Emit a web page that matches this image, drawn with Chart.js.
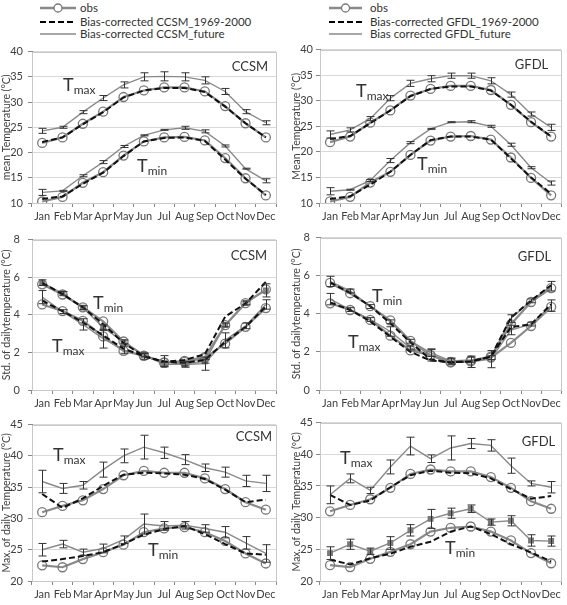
<!DOCTYPE html>
<html>
<head>
<meta charset="utf-8">
<script src="https://cdn.jsdelivr.net/npm/chart.js@4.4.0/dist/chart.umd.min.js"></script>
<style>
  body { margin: 0; background: #fff; width: 567px; height: 605px; overflow: hidden; position: relative; font-family: Lato, "Liberation Sans", sans-serif; }
  canvas { position: absolute; }
  .row { position: absolute; height: 14px; white-space: nowrap; font-size: 11.5px; color: #333; line-height: 14px; }
  .row svg { position: absolute; top: 0; }
  .row span { position: absolute; top: 0; }
</style>
</head>
<body>
<div id="legend"></div>
<canvas id="p1" width="282" height="182" style="left:0;top:40px"></canvas>
<canvas id="p2" width="283" height="182" style="left:284px;top:40px"></canvas>
<canvas id="p3" width="282" height="185" style="left:0;top:225px"></canvas>
<canvas id="p4" width="283" height="185" style="left:284px;top:225px"></canvas>
<canvas id="p5" width="282" height="192" style="left:0;top:413px"></canvas>
<canvas id="p6" width="283" height="192" style="left:284px;top:413px"></canvas>
<script>
const months = ["Jan", "Feb", "Mar", "Apr", "May", "Jun", "Jul", "Aug", "Sep", "Oct", "Nov", "Dec"];

const legendLeft = ["obs", "Bias-corrected CCSM_1969-2000", "Bias-corrected CCSM_future"];
const legendRight = ["obs", "Bias-corrected GFDL_1969-2000", "Bias corrected GFDL_future"];

// mean temperature
const obsTmaxMean = [21.9, 23.0, 25.7, 28.1, 31.0, 32.3, 32.9, 32.9, 32.1, 29.2, 25.8, 23.0];
const obsTminMean = [10.3, 11.2, 14.0, 16.1, 19.4, 22.2, 23.0, 23.1, 22.4, 18.9, 14.9, 11.5];
const ccsmHistTmaxMean = [22.1, 23.0, 25.6, 28.0, 30.9, 32.3, 32.8, 32.8, 32.0, 29.1, 25.8, 23.0];
const ccsmHistTminMean = [10.8, 11.3, 13.8, 16.0, 19.3, 22.2, 22.9, 23.0, 22.3, 18.6, 14.8, 11.6];
const ccsmFutTmaxMean = [24.3, 25.0, 28.0, 30.8, 33.4, 35.0, 35.1, 35.0, 34.3, 32.1, 28.1, 25.9];
const ccsmFutTmaxMeanErr = [0.5, 0.2, 0.3, 0.5, 0.6, 0.8, 0.9, 0.8, 0.7, 0.6, 0.4, 0.4];
const ccsmFutTminMean = [12.1, 12.4, 15.4, 18.1, 21.2, 23.4, 24.5, 24.9, 24.2, 21.3, 16.8, 14.4];
const ccsmFutTminMeanErr = [0.6, 0.1, 0.2, 0.3, 0.2, 0.1, 0.1, 0.3, 0.3, 0.2, 0.1, 0.4];
const gfdlHistTmaxMean = [22.5, 23.1, 25.6, 28.1, 30.9, 32.3, 32.8, 32.8, 32.0, 29.2, 25.9, 23.0];
const gfdlHistTminMean = [10.8, 11.3, 13.6, 16.1, 19.4, 22.3, 23.0, 23.0, 22.4, 18.7, 15.0, 11.8];
const gfdlFutTmaxMean = [23.4, 24.3, 26.5, 30.5, 33.4, 34.3, 34.9, 34.9, 33.9, 31.2, 27.4, 24.8];
const gfdlFutTmaxMeanErr = [0.7, 0.4, 0.4, 0.5, 0.6, 0.6, 0.5, 0.5, 0.6, 0.5, 0.4, 0.6];
const gfdlFutTminMean = [12.3, 12.6, 14.4, 18.3, 21.8, 24.5, 25.8, 25.9, 25.0, 21.4, 16.9, 13.9];
const gfdlFutTminMeanErr = [0.7, 0.1, 0.2, 0.4, 0.2, 0.1, 0.1, 0.2, 0.2, 0.3, 0.2, 0.4];

// std of daily temperature
const obsTmaxStd = [4.55, 4.2, 3.68, 2.85, 2.08, 1.83, 1.47, 1.5, 1.7, 2.47, 3.36, 4.36];
const obsTminStd = [5.62, 5.08, 4.4, 3.65, 2.58, 1.82, 1.45, 1.55, 1.75, 3.45, 4.62, 5.35];
const ccsmHistTmaxStd = [4.75, 4.2, 3.6, 2.9, 2.2, 1.8, 1.5, 1.45, 1.6, 2.55, 3.35, 4.45];
const ccsmHistTminStd = [5.7, 5.1, 4.4, 3.5, 2.5, 1.8, 1.5, 1.6, 1.9, 3.9, 4.6, 5.75];
const ccsmFutTmaxStd = [4.94, 4.17, 3.49, 2.73, 2.13, 1.79, 1.53, 1.36, 1.4, 2.64, 3.41, 4.55];
const ccsmFutTmaxStdErr = [0.35, 0.1, 0.3, 0.5, 0.2, 0.15, 0.3, 0.15, 0.35, 0.4, 0.15, 0.25];
const ccsmFutTminStd = [5.71, 5.14, 4.38, 3.32, 2.56, 1.87, 1.36, 1.38, 1.53, 3.46, 4.63, 5.3];
const ccsmFutTminStdErr = [0.15, 0.1, 0.1, 0.15, 0.1, 0.1, 0.1, 0.1, 0.1, 0.1, 0.1, 0.35];
const gfdlHistTmaxStd = [4.6, 4.2, 3.6, 2.8, 2.0, 1.55, 1.45, 1.5, 1.75, 3.3, 3.45, 4.5];
const gfdlHistTminStd = [5.65, 5.1, 4.4, 3.5, 2.5, 1.6, 1.45, 1.5, 1.75, 3.8, 4.7, 5.5];
const gfdlFutTmaxStd = [4.77, 4.22, 3.7, 3.07, 2.21, 1.82, 1.48, 1.48, 1.62, 3.15, 3.46, 4.43];
const gfdlFutTmaxStdErr = [0.3, 0.1, 0.1, 0.25, 0.1, 0.3, 0.15, 0.3, 0.45, 0.25, 0.1, 0.3];
const gfdlFutTminStd = [5.7, 5.2, 4.38, 3.58, 2.56, 1.96, 1.53, 1.58, 1.7, 3.75, 4.68, 5.45];
const gfdlFutTminStdErr = [0.27, 0.1, 0.1, 0.1, 0.1, 0.2, 0.15, 0.15, 0.1, 0.2, 0.1, 0.25];

// max of daily temperature
const obsTmaxMax = [31.0, 32.0, 32.9, 34.7, 36.9, 37.6, 37.3, 37.3, 36.4, 34.7, 32.6, 31.4];
const obsTminMax = [22.5, 22.2, 23.5, 24.6, 25.8, 27.8, 28.4, 28.6, 27.8, 26.4, 24.4, 22.8];
const ccsmHistTmaxMax = [33.9, 31.7, 33.2, 35.2, 37.0, 37.3, 37.2, 37.0, 36.3, 34.6, 32.6, 33.0];
const ccsmHistTminMax = [23.1, 23.5, 24.0, 24.6, 25.9, 27.4, 28.3, 28.8, 27.5, 25.9, 24.4, 24.2];
const ccsmFutTmaxMax = [35.9, 34.8, 35.3, 37.8, 40.0, 41.4, 40.5, 39.4, 38.1, 37.4, 36.0, 35.6];
const ccsmFutTmaxMaxErr = [1.8, 0.8, 0.6, 1.2, 1.1, 1.9, 0.9, 0.8, 0.6, 0.8, 0.9, 1.3];
const ccsmFutTminMax = [25.0, 25.9, 24.6, 25.2, 26.6, 29.1, 28.8, 28.9, 28.4, 27.8, 26.1, 24.4];
const ccsmFutTminMaxErr = [1.0, 0.6, 0.5, 0.7, 0.6, 1.6, 0.7, 0.6, 0.6, 0.9, 1.0, 1.4];
const gfdlHistTmaxMax = [33.6, 32.0, 32.7, 34.8, 36.7, 37.4, 37.1, 37.0, 36.2, 34.5, 33.0, 33.4];
const gfdlHistTminMax = [23.4, 22.6, 23.6, 24.3, 25.4, 26.2, 27.8, 28.6, 27.4, 25.8, 24.5, 23.1];
const gfdlFutTmaxMax = [33.6, 36.2, 34.3, 38.0, 41.3, 39.3, 41.0, 41.7, 41.4, 38.2, 35.4, 34.8];
const gfdlFutTmaxMaxErr = [1.4, 0.7, 0.5, 1.1, 1.4, 0.6, 1.9, 0.8, 0.9, 1.2, 0.4, 0.9];
const gfdlFutTminMax = [24.4, 25.8, 24.7, 26.0, 28.0, 29.8, 30.7, 31.4, 29.3, 29.5, 26.4, 26.3];
const gfdlFutTminMaxErr = [1.0, 0.8, 0.5, 1.0, 0.9, 1.5, 0.8, 0.6, 0.5, 0.8, 0.9, 0.8];

const FONT = "Lato, 'Liberation Sans', sans-serif";
const GREY = "#8a8a8a";

// legend at the top, one per column
function buildLegend(labels, x0, lineW, textX) {
    const box = document.getElementById("legend");
    const tops = [1, 14.5, 27];
    labels.forEach((txt, i) => {
        const row = document.createElement("div");
        row.className = "row";
        row.style.left = x0 + "px";
        row.style.top = tops[i] + "px";
        let svg;
        if (i === 0) {
            svg = `<svg width="${lineW}" height="14"><line x1="0" y1="7" x2="${lineW}" y2="7" stroke="${GREY}" stroke-width="2.5"/><circle cx="${lineW / 2}" cy="7" r="4" fill="#fff" stroke="#777" stroke-width="1.3"/></svg>`;
        } else if (i === 1) {
            svg = `<svg width="${lineW}" height="14"><line x1="0" y1="7" x2="${lineW}" y2="7" stroke="#000" stroke-width="2" stroke-dasharray="6,3"/></svg>`;
        } else {
            svg = `<svg width="${lineW}" height="14"><line x1="0" y1="7" x2="${lineW}" y2="7" stroke="${GREY}" stroke-width="1.3"/></svg>`;
        }
        row.innerHTML = svg + `<span style="left:${textX - x0}px">${txt}</span>`;
        box.appendChild(row);
    });
}
buildLegend(legendLeft, 40, 36, 80);
buildLegend(legendRight, 329, 33, 370);

// light frame round the plot area
const frame = {
    id: "frame",
    beforeDatasetsDraw(chart) {
        const a = chart.chartArea;
        const ctx = chart.ctx;
        ctx.save();
        ctx.strokeStyle = "#c8c8c8";
        ctx.lineWidth = 1;
        ctx.strokeRect(Math.round(a.left) + 0.5, Math.round(a.top) + 0.5, Math.round(a.right - a.left), Math.round(a.bottom - a.top));
        ctx.restore();
    }
};

// error bars for datasets that carry an "errors" array
const errorBars = {
    id: "errorBars",
    afterDatasetsDraw(chart) {
        const ctx = chart.ctx;
        const y = chart.scales.y;
        ctx.save();
        ctx.strokeStyle = "#333";
        ctx.lineWidth = 1;
        chart.data.datasets.forEach((ds, di) => {
            if (!ds.errors) return;
            const meta = chart.getDatasetMeta(di);
            meta.data.forEach((pt, i) => {
                const v = ds.data[i], e = ds.errors[i];
                const y1 = y.getPixelForValue(v + e), y2 = y.getPixelForValue(v - e);
                const x = Math.round(pt.x) + 0.5;
                ctx.beginPath();
                ctx.moveTo(x, y1); ctx.lineTo(x, y2);
                ctx.moveTo(x - 4, y1); ctx.lineTo(x + 4, y1);
                ctx.moveTo(x - 4, y2); ctx.lineTo(x + 4, y2);
                ctx.stroke();
            });
        });
        ctx.restore();
    }
};

// model name and Tmax / Tmin labels
const panelText = {
    id: "panelText",
    afterDatasetsDraw(chart, args, opts) {
        const a = chart.chartArea;
        const ctx = chart.ctx;
        ctx.save();
        ctx.fillStyle = "#333";
        ctx.textBaseline = "middle";
        ctx.font = "13px " + FONT;
        ctx.textAlign = "right";
        ctx.fillText(opts.name, a.right + opts.nameAt[0], a.top + opts.nameAt[1]);
        ctx.textAlign = "left";
        [["max", opts.tmax], ["min", opts.tmin]].forEach(([sub, p]) => {
            ctx.font = "18px " + FONT;
            ctx.fillText("T", a.left + p[0], a.top + p[1]);
            const w = ctx.measureText("T").width;
            ctx.font = "12px " + FONT;
            ctx.fillText(sub, a.left + p[0] + w, a.top + p[1] + 5);
        });
        ctx.restore();
    }
};

function makePanel(id, o) {
    const dashed = { borderColor: "#111", borderWidth: 2, borderDash: [6, 3], pointRadius: 0, fill: false };
    const obs = { borderColor: GREY, borderWidth: 2.2, pointRadius: 4.5, pointBorderColor: "#777", pointBorderWidth: 1.3, pointBackgroundColor: "rgba(255,255,255,0)", fill: false };
    const fut = { borderColor: GREY, borderWidth: 1.4, pointRadius: 0, fill: false };
    const square = { pointStyle: "rect", pointRadius: 3.2, pointBackgroundColor: "#7a7a7a", pointBorderColor: "#7a7a7a" };
    new Chart(document.getElementById(id), {
        type: "line",
        data: {
            labels: months,
            datasets: [
                Object.assign({ label: "hist Tmax", data: o.hist[0] }, dashed),
                Object.assign({ label: "hist Tmin", data: o.hist[1] }, dashed),
                Object.assign({ label: "obs Tmax", data: o.obs[0] }, obs),
                Object.assign({ label: "obs Tmin", data: o.obs[1] }, obs),
                Object.assign({ label: "future Tmax", data: o.fut[0], errors: o.err[0] }, fut),
                Object.assign({ label: "future Tmin", data: o.fut[1], errors: o.err[1] }, fut, o.squares ? square : {})
            ]
        },
        options: {
            responsive: false,
            animation: false,
            devicePixelRatio: 1,
            elements: { line: { tension: 0 } },
            layout: { padding: { top: 8, right: o.right, left: 0, bottom: 0 } },
            plugins: {
                legend: { display: false },
                tooltip: { enabled: false },
                panelText: o.text
            },
            scales: {
                x: {
                    offset: true,
                    grid: { offset: true, drawOnChartArea: false, tickLength: 4, color: "#888" },
                    border: { color: "#888" },
                    ticks: { font: { family: FONT, size: 11 }, color: "#404040", padding: 3, maxRotation: 0, autoSkip: false },
                    afterFit: s => { s.height = o.xh; }
                },
                y: {
                    min: o.min, max: o.max,
                    ticks: { stepSize: o.step, font: { family: FONT, size: 11 }, color: "#404040", padding: o.tpad },
                    grid: { color: "#d9d9d9", tickColor: "#888", tickLength: 4 },
                    border: { color: "#888" },
                    title: { display: true, text: o.title, font: { family: FONT, size: 10.5 }, color: "#404040", padding: { top: o.tp, bottom: 0 } },
                    afterFit: s => { s.width = o.yw; }
                }
            }
        },
        plugins: [frame, errorBars, panelText]
    });
}

makePanel("p1", {
    hist: [ccsmHistTmaxMean, ccsmHistTminMean], obs: [obsTmaxMean, obsTminMean],
    fut: [ccsmFutTmaxMean, ccsmFutTminMean], err: [ccsmFutTmaxMeanErr, ccsmFutTminMeanErr],
    min: 10, max: 40, step: 5, title: "mean Temperature (°C)",
    yw: 32, right: 6, xh: 19, tp: 0, tpad: 5,
    text: { name: "CCSM", nameAt: [-8, 15], tmax: [31, 34], tmin: [105, 115] }
});
makePanel("p2", {
    hist: [gfdlHistTmaxMean, gfdlHistTminMean], obs: [obsTmaxMean, obsTminMean],
    fut: [gfdlFutTmaxMean, gfdlFutTminMean], err: [gfdlFutTmaxMeanErr, gfdlFutTminMeanErr],
    min: 10, max: 40, step: 5, title: "Mean Temperature (°C)",
    yw: 36, right: 4, xh: 19, tp: 6.5, tpad: 3,
    text: { name: "GFDL", nameAt: [-13, 15], tmax: [36, 42], tmin: [97, 115] }
});
makePanel("p3", {
    hist: [ccsmHistTmaxStd, ccsmHistTminStd], obs: [obsTmaxStd, obsTminStd],
    fut: [ccsmFutTmaxStd, ccsmFutTminStd], err: [ccsmFutTmaxStdErr, ccsmFutTminStdErr], squares: true,
    min: 0, max: 8, step: 2, title: "Std. of dailytemperature (°C)",
    yw: 32, right: 6, xh: 20, tp: 0, tpad: 8,
    text: { name: "CCSM", nameAt: [-9, 16], tmax: [20, 107], tmin: [61, 64] }
});
makePanel("p4", {
    hist: [gfdlHistTmaxStd, gfdlHistTminStd], obs: [obsTmaxStd, obsTminStd],
    fut: [gfdlFutTmaxStd, gfdlFutTminStd], err: [gfdlFutTmaxStdErr, gfdlFutTminStdErr],
    min: 0, max: 8, step: 2, title: "Std. of dailytemperature (°C)",
    yw: 36, right: 4, xh: 20, tp: 6.5, tpad: 6,
    text: { name: "GFDL", nameAt: [-10, 19], tmax: [28, 105], tmin: [52, 59] }
});
makePanel("p5", {
    hist: [ccsmHistTmaxMax, ccsmHistTminMax], obs: [obsTmaxMax, obsTminMax],
    fut: [ccsmFutTmaxMax, ccsmFutTminMax], err: [ccsmFutTmaxMaxErr, ccsmFutTminMaxErr],
    min: 20, max: 45, step: 5, title: "Max. of daily Temperature (°C)",
    yw: 32, right: 6, xh: 24, tp: 0, tpad: 5,
    text: { name: "CCSM", nameAt: [-4, 12], tmax: [21, 31], tmin: [116, 126] }
});
makePanel("p6", {
    hist: [gfdlHistTmaxMax, gfdlHistTminMax], obs: [obsTmaxMax, obsTminMax],
    fut: [gfdlFutTmaxMax, gfdlFutTminMax], err: [gfdlFutTmaxMaxErr, gfdlFutTminMaxErr], squares: true,
    min: 20, max: 45, step: 5, title: "Max. of daily Temperature (ºC)",
    yw: 36, right: 4, xh: 24, tp: 6.5, tpad: 3,
    text: { name: "GFDL", nameAt: [-6, 19], tmax: [20, 36], tmin: [125, 126] }
});
</script>
</body>
</html>
